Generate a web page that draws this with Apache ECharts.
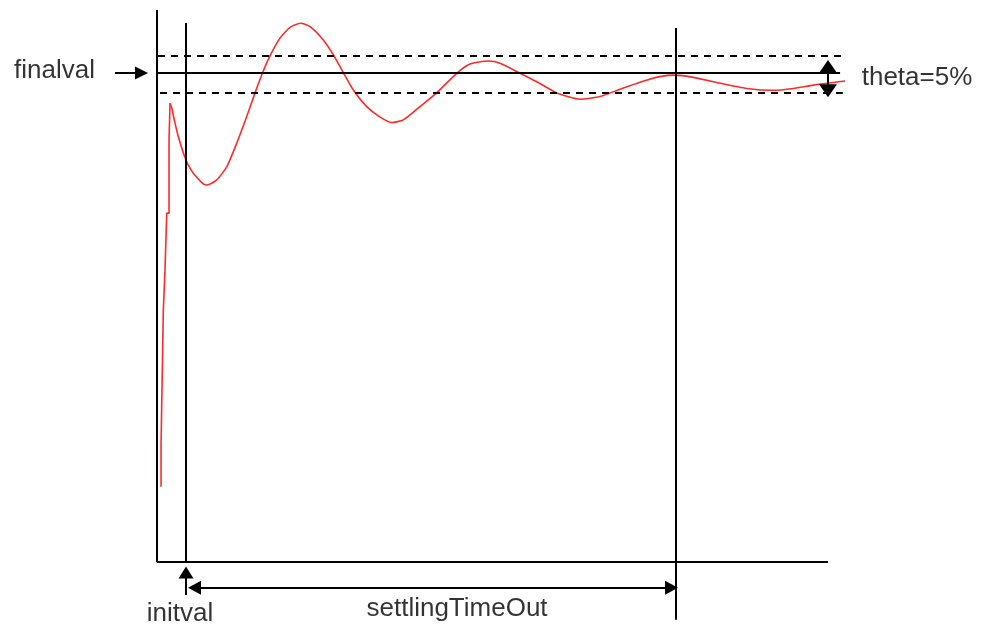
<!DOCTYPE html>
<html>
<head>
<meta charset="utf-8">
<script src="https://cdn.jsdelivr.net/npm/echarts@6/dist/echarts.min.js"></script>
<style>html,body{margin:0;padding:0;background:#fff}#c{width:981px;height:628px}</style>
</head>
<body>
<div id="c"></div>
<script>
// Step response samples (time, value); finalval = 1
const respT = [0.60,0.60,0.79,0.79,0.94,0.94,1.19,1.19,1.45,1.45,1.79,1.79,1.94,1.94,
  2.19,2.68,3.17,3.92,4.43,4.81,5.41,6.90,7.45,8.90,10.39,11.88,13.37,14.61,15.75,16.84,18.33,19.82,21.42,22.80,24.78,26.38,27.76,29.25,31.25,33.13,34.98,36.71,39.19,41.68,44.66,46.65,49.37,51.12,54.10,56.59,59.57,63.04,66.02,69.00,71.98,74.96,77.20,79.93,83.91,87.88,91.85,94.83,97.81,100.79,102.53];
const respV = [-0.118,-0.006,-0.006,0.197,0.197,0.359,0.359,0.467,0.467,0.621,0.621,0.819,0.819,0.918,
  0.905,0.865,0.828,0.784,0.760,0.746,0.729,0.700,0.697,0.711,0.746,0.810,0.882,0.946,1.001,1.046,1.094,1.123,1.134,1.125,1.089,1.046,1.001,0.954,0.909,0.882,0.866,0.873,0.909,0.946,0.999,1.024,1.032,1.026,0.999,0.976,0.946,0.929,0.936,0.956,0.975,0.990,0.994,0.988,0.972,0.958,0.953,0.958,0.967,0.974,0.978];
const stepCount = 14; // first samples are the staircase rise

// reference levels
const finalval = 1.0;
const thetaUpper = 1.046;
const thetaLower = 0.946;
const initvalT = 4.32;
const settlingT = 77.35;

// axes frame (data units)
const axisTop = 1.170, axisBase = -0.322, axisEndT = 100;
const initvalTop = 1.135;
const settlingTop = 1.121, settlingBottom = -0.478;
const levelEndT = 101.8, bandEndT = 102.2, upperStartT = 0.15, lowerStartT = 0.45;

// annotation arrows
const finalArrowT = [-6.26, -2.31];
const thetaArrowV = [1.017, 0.952], thetaArrowT = 100.0;
const settleArrowV = -0.391, settleArrowT = [5.59, 76.68];
const initArrowV = [-0.411, -0.350];

// texts
const labelNames = ['finalval', 'theta=5%', 'initval', 'settlingTimeOut'];
const labelT = [-15.28, 113.26, 3.43, 44.71];
const labelV = [1.005, 0.987, -0.462, -0.449];

const pts = respT.map((t, i) => [t, respV[i]]);
const solid = {color: '#000', width: 2, type: 'solid'};
const dashed = {color: '#000', width: 2, type: [7, 6]};
function seg(a, b, style, s1, s2, sz) {
  return [
    {coord: a, symbol: s1 || 'none', symbolSize: sz || 1, lineStyle: style},
    {coord: b, symbol: s2 || 'none', symbolSize: sz || 1}
  ];
}

const chart = echarts.init(document.getElementById('c'), null, {renderer: 'canvas'});
chart.setOption({
  animation: false,
  backgroundColor: '#fff',
  grid: {left: 0, right: 0, top: 0, bottom: 0},
  xAxis: {type: 'value', min: -23.4, max: 122.8, show: false},
  yAxis: {type: 'value', min: -0.5, max: 1.197, show: false},
  series: [
    {
      type: 'line', data: pts.slice(0, stepCount), showSymbol: false, smooth: false,
      lineStyle: {color: '#ff2a2a', width: 1.6}, silent: true, z: 3
    },
    {
      type: 'line', data: pts.slice(stepCount - 1), showSymbol: false, smooth: 0.2,
      lineStyle: {color: '#ff2a2a', width: 1.6}, silent: true, z: 3
    },
    {
      type: 'line', data: [], silent: true, z: 2,
      markLine: {
        silent: true, animation: false, symbol: ['none', 'none'],
        label: {show: false},
        emphasis: {disabled: true},
        data: [
          seg([0, axisTop], [0, axisBase], solid),
          seg([0, axisBase], [axisEndT, axisBase], solid),
          seg([initvalT, initvalTop], [initvalT, axisBase], solid),
          seg([settlingT, settlingTop], [settlingT, settlingBottom], solid),
          seg([0, finalval], [levelEndT, finalval], solid),
          seg([upperStartT, thetaUpper], [bandEndT, thetaUpper], dashed),
          seg([lowerStartT, thetaLower], [bandEndT, thetaLower], dashed),
          [
            {coord: [finalArrowT[0], finalval], symbol: 'none', lineStyle: solid},
            {coord: [finalArrowT[1], finalval], symbol: 'triangle', symbolSize: [13, 13]}
          ],
          [
            {coord: [thetaArrowT, thetaArrowV[0]], symbol: 'triangle', symbolSize: [18, 13], lineStyle: solid},
            {coord: [thetaArrowT, thetaArrowV[1]], symbol: 'triangle', symbolSize: [18, 13]}
          ],
          [
            {coord: [settleArrowT[0], settleArrowV], symbol: 'triangle', symbolSize: [14, 13], lineStyle: solid},
            {coord: [settleArrowT[1], settleArrowV], symbol: 'triangle', symbolSize: [14, 13]}
          ],
          [
            {coord: [initvalT, initArrowV[0]], symbol: 'none', lineStyle: solid},
            {coord: [initvalT, initArrowV[1]], symbol: 'triangle', symbolSize: [15, 12]}
          ]
        ]
      }
    },
    {
      type: 'scatter', silent: true, symbolSize: 1, itemStyle: {color: 'rgba(0,0,0,0)'},
      data: labelNames.map((n, i) => ({name: n, value: [labelT[i], labelV[i]]})),
      label: {
        show: true, position: 'inside', formatter: '{b}',
        fontFamily: '"Liberation Sans", Arial, Helvetica, sans-serif',
        fontSize: 26, color: '#000'
      },
      z: 4
    }
  ]
});
</script>
</body>
</html>
